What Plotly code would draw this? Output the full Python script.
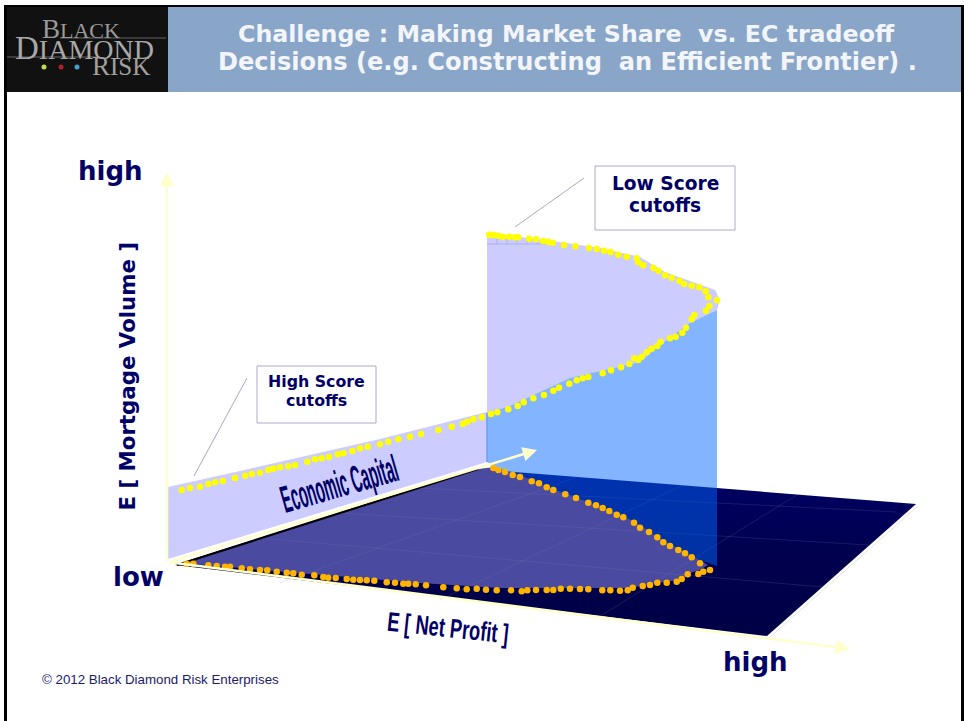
import plotly.graph_objects as go

# Slide frame, in slide pixels
FRAME_W = 964
FRAME_H = 721
NAVY = "#000066"
AXIS_CREAM = "#FFFFCC"

# Volume / capital wall: upper and lower limits of the score-cutoff sweep
yellow_x = [489.3, 493.3, 498.3, 502.7, 509, 515, 518.3, 529, 536, 543.3, 548.3, 552.7, 564, 575.3, 589, 596.7,
            604, 610.7, 618.3, 626.7, 636.7, 638.3, 643.3, 653.3, 658.3, 665, 671.7, 679.3, 684, 691.7, 699.3,
            705.7, 708.3, 717, 709.3, 706, 694.3, 691.7, 686, 682.3, 675.7, 670, 660.7, 657.3, 651.7, 646.7,
            641.7, 638.3, 634.3, 629.3, 621, 611, 602.7, 588.3, 582.7, 576.7, 569.3, 559, 553.3, 544, 533.3,
            523.7, 517.7, 508.3, 497.3, 491, 481.7, 473.3, 467.3, 462.7, 451.7, 438.3, 421, 410, 398.3, 388.3,
            380, 367.7, 360, 352.3, 343.3, 337.7, 329, 321.7, 315, 307.3, 295, 288.3, 280, 273.3, 268.3, 260,
            251.7, 245, 235, 222.7, 215, 208.3, 200, 190, 181.7]
yellow_y = [234.7, 235, 235.7, 236.7, 236.7, 237.3, 237.3, 238.7, 239.3, 241, 242, 242.7, 245, 246.3, 248, 249,
            250.7, 252, 254.7, 256.7, 258.3, 262.3, 265.3, 267.7, 270.7, 275.3, 277.7, 280.7, 284, 285.7, 287.3,
            291.3, 297.3, 300.3, 306, 310.7, 315, 319.3, 327.7, 332.7, 336.7, 338.3, 341.7, 346, 348.7, 352.3,
            356.7, 360, 358.3, 364, 367.3, 370.3, 373.3, 377, 378.3, 380.3, 383.7, 387.7, 390.7, 395, 398.3,
            402.3, 406, 409.3, 412.3, 414, 417.3, 419.3, 421.7, 424, 426.7, 430, 434, 436.7, 439.3, 441.7,
            444.3, 446.7, 448.3, 451, 453.3, 454.3, 457, 458.3, 459.3, 461.7, 465, 466.3, 467.3, 468.7, 470, 472.7,
            474, 475.7, 478, 481, 482.3, 484, 486.7, 488, 490]

# Profit / capital floor: trace of the same sweep
orange_x = [186.7, 193.3, 208.3, 216.7, 225, 230, 241.7, 250, 260, 267.3, 276.7, 286.7, 293.3, 301.7, 314.3, 323.3,
            328.3, 335.7, 346.7, 353.3, 360, 366.7, 374.3, 386.7, 395, 403.3, 408.3, 415.7, 426, 443.3, 456.7,
            466.7, 476.7, 486, 496.7, 511, 521.7, 527.3, 536, 546.7, 553.3, 560.7, 570, 580, 588.3, 602.3, 610.3,
            620, 627.7, 632.7, 642.7, 650, 657.3, 666.7, 676.7, 681.7, 687.7, 698.3, 703.3, 710, 700, 691.7, 685,
            678.3, 670, 663.3, 657.3, 649, 640, 634, 623.3, 616.7, 609.3, 602.7, 596, 588.3, 576, 565.3, 553.3,
            546.7, 539, 531.7, 520, 512.7, 505, 498.3, 493.3]
orange_y = [563.7, 563.7, 565.3, 566, 566.7, 566.7, 568.3, 569.3, 570, 570.3, 571.7, 572.7, 573.3, 574.7, 575.3, 577,
            577.7, 578, 579, 579.7, 580, 580.3, 580.7, 582.3, 582.7, 583.7, 583.7, 584.3, 585.3, 587.3, 588.3,
            589.3, 588.7, 589.7, 590.3, 590.3, 591.3, 590.3, 590, 590, 590, 588.7, 588.7, 589, 589.3, 590.3, 590.3,
            590.7, 590.3, 587.7, 586, 585, 582.7, 582.7, 581.7, 579, 574.3, 574, 571.7, 570, 563.3, 557.3, 553.3,
            550, 546, 542.3, 537.3, 532, 527.7, 522.7, 517.3, 514.7, 511, 508, 505.3, 502.7, 498, 494.3, 490,
            487.3, 483.3, 481.3, 477, 475, 472, 470, 468]

# Filled surfaces
floor_x = [175, 767, 916, 478, 175]
floor_y = [565, 636, 504, 469, 565]
shadow_x = [180, 478, 495, 520, 553, 602, 634, 664, 700, 708, 700, 690, 680, 655, 630, 600, 500, 420, 300, 180]
shadow_y = [563, 469, 467, 475, 489, 507, 521, 541, 560, 565, 570, 573, 580, 583, 588, 588, 588, 583, 573, 563]
wall_left_x = [168, 240, 380, 487, 487, 168, 168]
wall_left_y = [487, 471, 439, 412, 462, 559, 487]
wall_upper_x = [487, 552, 600, 640, 665, 700, 715, 720, 717, 690, 660, 640, 570, 510, 487, 487]
wall_upper_y = [233, 241, 248, 257, 272, 285, 290, 300, 310, 323, 345, 362, 378, 406, 413, 233]
blue_x = [487, 510, 570, 640, 660, 690, 717, 717, 700, 664, 634, 602, 553, 520, 495, 487, 487]
blue_y = [413, 406, 378, 362, 345, 323, 310, 566, 560, 541, 521, 507, 489, 475, 467, 462, 413]

# Faint perspective grid on the floor
grid_segments = [((597, 618), (797, 495)), ((440, 600), (683, 485)), ((280, 583), (577, 477)),
                 ((897, 512), (420, 488)), ((868, 545), (340, 513)), ((822, 587), (260, 538))]
wall_grid_segments = [((487, 244), (553, 244)), ((497, 238), (497, 244)), ((507, 238), (507, 244)),
                      ((517, 238), (517, 244)), ((527, 238), (527, 244)), ((537, 240), (537, 244))]

fig = go.Figure()


def add_polygon(xs, ys, color, line=None, **extra):
    fig.add_trace(go.Scatter(x=xs, y=ys, mode="lines", fill="toself", fillcolor=color,
                             line=dict(color=line or "rgba(0,0,0,0)", width=1), hoverinfo="skip", **extra))


def add_segments(segments, color, width=1):
    xs, ys = [], []
    for (x0, y0), (x1, y1) in segments:
        xs += [x0, x1, None]
        ys += [y0, y1, None]
    fig.add_trace(go.Scatter(x=xs, y=ys, mode="lines", line=dict(color=color, width=width), hoverinfo="skip"))


add_segments([((769, 638), (918, 506))], "#E6E6E6", 1)
fig.add_trace(go.Scatter(x=floor_x, y=floor_y, mode="lines", line=dict(width=0), hoverinfo="skip", fill="toself",
                         fillgradient=dict(type="vertical",
                                           colorscale=[[0, "#000045"], [0.5, "#00004F"], [1, NAVY]])))
add_polygon(shadow_x, shadow_y, "#4A4AA0")
add_segments(grid_segments, "rgba(130,130,170,0.2)")
add_polygon(wall_left_x, wall_left_y, "#CCCCFF")
add_polygon(wall_upper_x, wall_upper_y, "#CCCCFF")
add_segments(wall_grid_segments, "#AEAEF0")
add_polygon(blue_x, blue_y, "rgba(0,102,255,0.49)")
add_segments([((487, 413), (487, 462))], "#6C9CF8", 1.5)
add_segments([((177, 565), (478, 469))], "#000000", 2.2)
add_segments([((247, 378), (194, 476)), ((584, 178), (515, 227))], "#A8A8C8", 1)

fig.add_trace(go.Scatter(x=yellow_x, y=yellow_y, mode="markers", hoverinfo="skip",
                         marker=dict(color="#FFFF00", size=6.5, line=dict(width=0))))
fig.add_trace(go.Scatter(x=orange_x, y=orange_y, mode="markers", hoverinfo="skip",
                         marker=dict(color="#FFB400", size=6.5, line=dict(width=0))))

# Header band, logo and slide frame
shapes = [
    dict(type="rect", x0=7, x1=168, y0=7, y1=92, fillcolor="#111111", line_width=0),
    dict(type="rect", x0=168, x1=961, y0=7, y1=92, fillcolor="#89A5C8", line_width=0),
    dict(type="rect", x0=4, x1=964, y0=5, y1=7, fillcolor="#000000", line_width=0),
    dict(type="rect", x0=4, x1=7, y0=5, y1=721, fillcolor="#000000", line_width=0),
    dict(type="rect", x0=961, x1=964, y0=5, y1=721, fillcolor="#000000", line_width=0),
    dict(type="line", x0=60, x1=166, y0=38, y1=38, line=dict(color="#666666", width=1)),
    dict(type="line", x0=7, x1=100, y0=57, y1=57, line=dict(color="#666666", width=1)),
    dict(type="rect", x0=595, x1=735, y0=166, y1=230, fillcolor="#FFFFFF", line=dict(color="#AAAACC", width=1)),
    dict(type="rect", x0=257, x1=376, y0=366, y1=423, fillcolor="#FFFFFF", line=dict(color="#AAAACC", width=1)),
    dict(type="circle", x0=41.5, x1=46.5, y0=64.5, y1=69.5, fillcolor="#C8D850", line_width=0),
    dict(type="circle", x0=58.5, x1=63.5, y0=64.5, y1=69.5, fillcolor="#B02028", line_width=0),
    dict(type="circle", x0=74.5, x1=79.5, y0=64.5, y1=69.5, fillcolor="#40A0D0", line_width=0),
]

DEJAVU_BOLD = "DejaVu Sans"
ARIAL_LIKE = "Liberation Sans"
SERIF = "Liberation Serif"


def label(text, x, y, size, color=NAVY, family=DEJAVU_BOLD, angle=0, bold=True):
    shown = f"<b>{text}</b>" if bold else text
    return dict(text=shown, x=x, y=y, xref="x", yref="y", showarrow=False, xanchor="center", yanchor="middle",
                textangle=angle, font=dict(family=family, size=size, color=color))


def arrow(x0, y0, x1, y1):
    return dict(x=x1, y=y1, ax=x0, ay=y0, xref="x", yref="y", axref="x", ayref="y", text="", showarrow=True,
                arrowhead=2, arrowsize=1.1, arrowwidth=2.6, arrowcolor=AXIS_CREAM)


annotations = [
    arrow(167, 563, 167, 172),
    arrow(168, 562, 850, 649),
    arrow(170, 562, 537, 450),
    label("Challenge : Making Market Share  vs. EC tradeoff", 566.5, 34, 23.7, "#F2F5FA"),
    label("Decisions (e.g. Constructing  an Efficient Frontier) .", 567, 62, 24.1, "#F2F5FA"),
    label("high", 110.5, 171, 26),
    label("low", 138.5, 577, 26),
    label("high", 755, 662, 26),
    label("E [ Mortgage Volume ]", 127, 376.5, 21.3, angle=-90),
    label("Low Score", 665, 183, 18.6),
    label("cutoffs", 665, 205, 18.6),
    label("High Score", 316, 381, 15.8),
    label("cutoffs", 316, 400, 15.8),
    label("Economic Capital", 339, 484, 38, family=ARIAL_LIKE, angle=-16),
    label("E [ Net Profit ]", 448, 628, 27, family=ARIAL_LIKE, angle=6),
    label("© 2012 Black Diamond Risk Enterprises", 160, 679, 13.3, "#1A1A6E", ARIAL_LIKE, bold=False),
    label('B<span style="font-size:22px">LACK</span>', 81, 29, 27, "#9A9A9A", SERIF, bold=False),
    label('D<span style="font-size:28px">IAMOND</span>', 84.5, 48, 33, "#A8A8A8", SERIF, bold=False),
    label('R<span style="font-size:25px">ISK</span>', 121, 66, 27, "#A0A0A0", SERIF, bold=False),
]

fig.update_layout(
    width=FRAME_W, height=FRAME_H, autosize=False, margin=dict(l=0, r=0, t=0, b=0),
    paper_bgcolor="#FFFFFF", plot_bgcolor="#FFFFFF", showlegend=False,
    xaxis=dict(range=[0, FRAME_W], visible=False, fixedrange=True),
    yaxis=dict(range=[FRAME_H, 0], visible=False, fixedrange=True),
    shapes=shapes, annotations=annotations,
)

# The two condensed perspective labels are squeezed horizontally to their run lengths
CONDENSE = """
var runs = {"Economic Capital": 120, "E [ Net Profit ]": 122};
document.querySelectorAll('.annotation-text').forEach(function (t) {
  var run = runs[t.textContent];
  if (!run) { return; }
  var b = t.getBBox();
  var cx = b.x + b.width / 2;
  t.setAttribute('transform', 'translate(' + cx + ',0) scale(' + (run / b.width) + ',1) translate(' + (-cx) + ',0)');
});
"""

fig.write_html("out.html", config=dict(displayModeBar=False), post_script=CONDENSE)
